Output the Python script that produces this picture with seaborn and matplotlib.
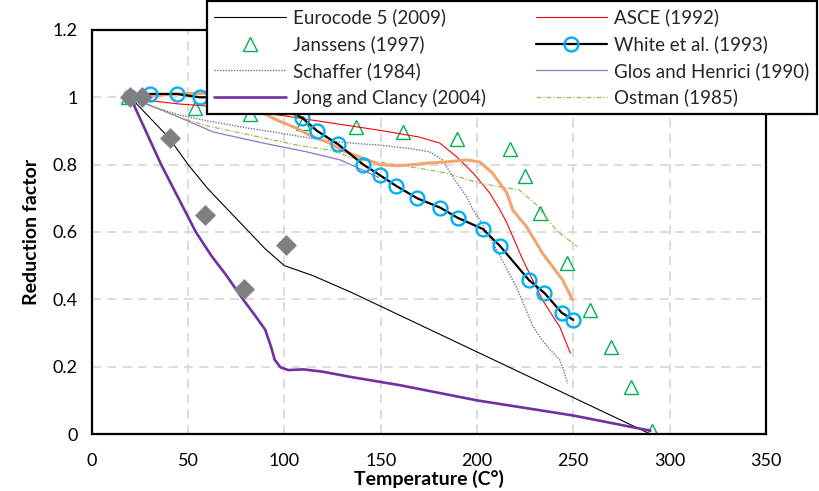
import matplotlib
matplotlib.use("Agg")
import matplotlib.pyplot as plt
import seaborn as sns

# Reduction factor vs temperature, several published models and test data
eurocode_T = [20, 30, 40, 50, 60, 70, 80, 90, 100, 115, 135, 290]
eurocode_R = [1.0, 0.94, 0.88, 0.80, 0.73, 0.67, 0.61, 0.55, 0.50, 0.47, 0.42, 0.0]

janssens_T = [19, 53.5, 82, 109.5, 137, 161.6, 189.6, 217, 224.8, 232.6, 246.6, 258.6, 269.5, 280, 291]
janssens_R = [1.0, 0.968, 0.95, 0.924, 0.912, 0.897, 0.876, 0.846, 0.766, 0.656, 0.508, 0.368, 0.258, 0.14, 0.01]

schaffer_T = [20, 30, 45.7, 60, 80.5, 97.6, 110, 123.6, 139, 149.5, 165, 175.5, 182, 187.5, 194.7,
              198, 201.5, 210, 221, 229, 233, 238, 243, 245, 247]
schaffer_R = [1.0, 0.975, 0.947, 0.93, 0.909, 0.894, 0.882, 0.87, 0.862, 0.858, 0.848, 0.838, 0.814,
              0.763, 0.704, 0.665, 0.636, 0.55, 0.43, 0.32, 0.285, 0.25, 0.22, 0.19, 0.15]

jong_T = [20, 28, 36, 45, 54, 62, 70, 78.5, 85, 90, 93, 95, 98, 102, 110, 120, 134, 160, 200, 250, 290]
jong_R = [1.0, 0.9, 0.8, 0.70, 0.60, 0.53, 0.47, 0.40, 0.35, 0.31, 0.26, 0.22, 0.198, 0.19, 0.192,
          0.185, 0.17, 0.145, 0.10, 0.055, 0.01]

asce_T = [20, 30, 45.7, 57.6, 80, 97.6, 124, 149.5, 170, 180.7, 189.5, 198, 206.6, 212, 215.5,
          223.8, 234, 243, 248.5]
asce_R = [1.0, 0.99, 0.98, 0.975, 0.96, 0.947, 0.924, 0.902, 0.882, 0.864, 0.823, 0.775, 0.716,
          0.665, 0.627, 0.517, 0.398, 0.318, 0.24]

white_T = [20, 30, 44, 56, 68, 82, 95, 109, 117, 128, 141, 149.5, 158, 169, 181, 190, 203, 212,
           227, 235, 244, 250]
white_R = [1.0, 1.01, 1.01, 1.0, 1.0, 0.99, 0.975, 0.94, 0.90, 0.86, 0.80, 0.769, 0.737, 0.70,
           0.672, 0.642, 0.609, 0.558, 0.457, 0.419, 0.36, 0.339]

glos_T = [20, 30, 45.7, 63, 89, 111.6, 129, 143, 149]
glos_R = [1.0, 0.977, 0.94, 0.897, 0.864, 0.838, 0.814, 0.778, 0.762]

ostman_T = [20, 30, 45.7, 60, 80.5, 106.4, 123.6, 139, 149.5, 158, 175.5, 184, 201.5, 213, 222,
            231, 241, 252]
ostman_R = [1.0, 0.975, 0.94, 0.915, 0.89, 0.858, 0.843, 0.814, 0.808, 0.80, 0.784, 0.775, 0.745,
            0.733, 0.725, 0.68, 0.606, 0.556]

orange_T = [20, 30, 45, 58, 70, 80, 89, 97, 106, 114, 123.6, 131, 139, 149.5, 158, 166.7, 175.5,
            184, 194.7, 201.5, 208, 215.5, 218.6, 225.8, 234, 244.5, 249.7]
orange_R = [1.0, 1.005, 1.01, 1.012, 1.0, 0.98, 0.953, 0.93, 0.909, 0.885, 0.864, 0.84, 0.823,
            0.80, 0.797, 0.80, 0.805, 0.808, 0.814, 0.808, 0.775, 0.716, 0.665, 0.615, 0.537,
            0.457, 0.398]

diamond_T = [20, 26, 40.5, 59, 79, 101]
diamond_R = [1.0, 1.0, 0.88, 0.65, 0.43, 0.56]

x_ticks = [0, 50, 100, 150, 200, 250, 300, 350]
y_ticks = [0, 0.2, 0.4, 0.6, 0.8, 1.0, 1.2]
y_ticklabels = ["0", "0.2", "0.4", "0.6", "0.8", "1", "1.2"]

legend_labels = ["Eurocode 5 (2009)", "Janssens (1997)", "Schaffer (1984)", "Jong and Clancy (2004)",
                 "ASCE (1992)", "White et al. (1993)", "Glos and Henrici (1990)", "Ostman (1985)"]

sns.set_theme(style="white")
plt.rcParams["font.family"] = ["Lato", "DejaVu Sans"]

fig = plt.figure(figsize=(8.2, 4.91), dpi=100)
ax = fig.add_axes([0.112, 0.116, 0.822, 0.823])

common = dict(ax=ax, estimator=None, sort=False)

h_euro = sns.lineplot(x=eurocode_T, y=eurocode_R, color="black", lw=0.8, **common).lines[-1]
h_jan = sns.lineplot(x=janssens_T, y=janssens_R, linestyle="none", marker="^", markersize=9.5,
                     markerfacecolor="none", markeredgecolor="#00B050", markeredgewidth=1.0,
                     color="#00B050", **common).lines[-1]
h_sch = sns.lineplot(x=schaffer_T, y=schaffer_R, color="#7B6A9E", lw=1.0, linestyle=(0, (1, 1)),
                     **common).lines[-1]
h_jong = sns.lineplot(x=jong_T, y=jong_R, color="#7030A0", lw=1.9, **common).lines[-1]
h_asce = sns.lineplot(x=asce_T, y=asce_R, color="#FF0000", lw=0.8, **common).lines[-1]
h_glos = sns.lineplot(x=glos_T, y=glos_R, color="#9673C4", lw=0.9, **common).lines[-1]
h_ost = sns.lineplot(x=ostman_T, y=ostman_R, color="#9BBB59", lw=0.9, linestyle=(0, (4, 1.5, 1, 1.5)),
                     **common).lines[-1]
sns.lineplot(x=orange_T, y=orange_R, color="#F4A46E", lw=2.2, **common)
h_white = sns.lineplot(x=white_T, y=white_R, color="black", lw=1.6, marker="o", markersize=10,
                       markerfacecolor="none", markeredgecolor="#00B0F0", markeredgewidth=1.7,
                       **common).lines[-1]
sns.lineplot(x=diamond_T, y=diamond_R, linestyle="none", marker="D", markersize=10,
             markerfacecolor="#7F7F7F", markeredgecolor="#8E86A8", markeredgewidth=0.6,
             color="#7F7F7F", **common)

ax.set_xlim(0, 350)
ax.set_ylim(0, 1.2)
ax.set_xticks(x_ticks)
ax.set_yticks(y_ticks)
ax.set_yticklabels(y_ticklabels)

ax.grid(True, linestyle=(0, (5, 3.5)), color="#D9D9D9", lw=1.3)
ax.set_axisbelow(True)
for s in ax.spines.values():
    s.set_color("black")
    s.set_linewidth(1.6)
ax.tick_params(direction="out", length=5, width=1.4, color="black", labelsize=13,
               labelcolor="black", pad=5)
ax.tick_params(axis="x", pad=9)

ax.set_xlabel("Temperature (C°)", fontsize=14, fontweight="bold", color="black", labelpad=0)
ax.set_ylabel("Reduction factor", fontsize=14, fontweight="bold", color="black", labelpad=9)

handles = [h_euro, h_jan, h_sch, h_jong, h_asce, h_white, h_glos, h_ost]
leg = fig.legend(handles, legend_labels, ncol=2, loc="upper left",
                 bbox_to_anchor=(0.2524, 0.998, 0.744, 0.0), mode="expand", borderaxespad=0,
                 fontsize=13.5, frameon=True, fancybox=False, framealpha=1, edgecolor="black",
                 handlelength=3.8, handletextpad=0.4, labelspacing=0.47,
                 borderpad=0.4, numpoints=1)
leg.get_frame().set_linewidth(1.6)
leg.set_zorder(10)

fig.savefig("out.png", dpi=100)
